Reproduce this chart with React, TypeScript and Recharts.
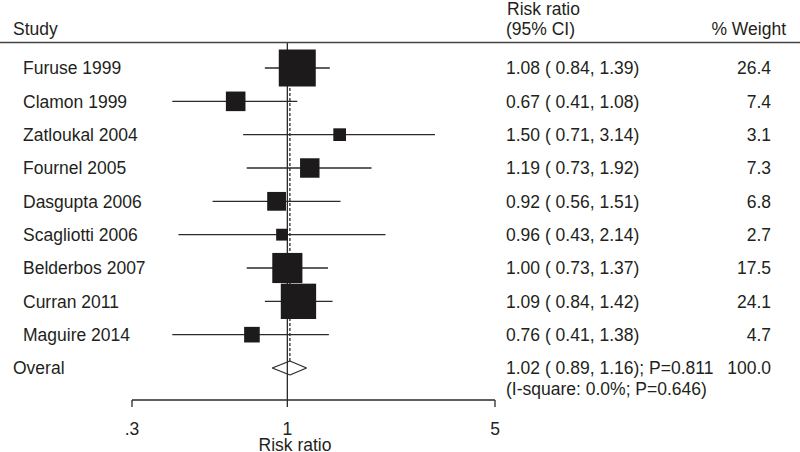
import { ComposedChart, XAxis, YAxis, Scatter, ReferenceLine } from 'recharts'

// Forest plot: risk ratios per study, log-scaled x axis

const FONT = '"Liberation Sans", Arial, Helvetica, sans-serif'
const INK = '#231f20'
const LINE = '#2a2a2a'
const FS = 17.5

const studies = [
	'Furuse 1999',
	'Clamon 1999',
	'Zatloukal 2004',
	'Fournel 2005',
	'Dasgupta 2006',
	'Scagliotti 2006',
	'Belderbos 2007',
	'Curran 2011',
	'Maguire 2014',
]
const estimates = [1.08, 0.67, 1.5, 1.19, 0.92, 0.96, 1.0, 1.09, 0.76]
const lower = [0.84, 0.41, 0.71, 0.73, 0.56, 0.43, 0.73, 0.84, 0.41]
const upper = [1.39, 1.08, 3.14, 1.92, 1.51, 2.14, 1.37, 1.42, 1.38]
const weights = [26.4, 7.4, 3.1, 7.3, 6.8, 2.7, 17.5, 24.1, 4.7]

const overallEst = 1.02
const overallLo = 0.89
const overallHi = 1.16
const overallP = '0.811'
const overallWeight = '100.0'
const iSquare = '0.0%'
const hetP = '0.646'

const xTicks = [0.3, 1, 5]

const OVERALL_ROW = studies.length
const rowTicks = [...studies.map((_, i) => i), OVERALL_ROW]

const rows = studies.map((name, i) => ({
	row: i,
	name,
	est: estimates[i],
	lo: lower[i],
	hi: upper[i],
	weight: weights[i],
}))

const fmtCI = (est: number, lo: number, hi: number) =>
	`${est.toFixed(2)} ( ${lo.toFixed(2)}, ${hi.toFixed(2)})`

// square side grows with sqrt(weight) so area tracks weight
const WeightSquare = (props: any) => {
	const { cx, cy, payload } = props
	const s = 7.2 * Math.sqrt(payload.weight)
	return <rect x={cx - s / 2} y={cy - s / 2} width={s} height={s} fill="#1c1a1b" />
}

const RowText = (props: any) => {
	const { y, payload } = props
	const i = payload.value
	if (i === OVERALL_ROW) {
		return (
			<g fontFamily={FONT} fontSize={FS} fill={INK}>
				<text x={13} y={y} dy="0.36em">Overal</text>
				<text x={506} y={y} dy="0.36em">
					{`${fmtCI(overallEst, overallLo, overallHi)}; P=${overallP}`}
				</text>
				<text x={771} y={y} dy="0.36em" textAnchor="end">{overallWeight}</text>
				<text x={506} y={y + 27}>{`(I-square: ${iSquare}; P=${hetP})`}</text>
			</g>
		)
	}
	const r = rows[i]
	return (
		<g fontFamily={FONT} fontSize={FS} fill={INK}>
			<text x={23} y={y} dy="0.36em">{r.name}</text>
			<text x={506} y={y} dy="0.36em">{fmtCI(r.est, r.lo, r.hi)}</text>
			<text x={771} y={y} dy="0.36em" textAnchor="end">{r.weight.toFixed(1)}</text>
		</g>
	)
}

const DIAMOND_H = 0.21

export default function App() {
	return (
		<div
			style={{
				position: 'absolute',
				left: 0,
				top: 0,
				width: 800,
				height: 452,
				background: '#fff',
				fontFamily: FONT,
			}}
		>
			<ComposedChart
				width={800}
				height={452}
				data={rows}
				margin={{ top: 42, right: 305, bottom: 0, left: 0 }}
			>
				<XAxis
					dataKey="est"
					type="number"
					scale="log"
					domain={[0.3, 5]}
					ticks={xTicks}
					allowDataOverflow
					height={52}
					tickSize={7}
					tickMargin={16}
					tickFormatter={(v: number) => (v < 1 ? String(v).replace(/^0/, '') : String(v))}
					tick={{ fill: INK, fontSize: FS, fontFamily: FONT }}
					axisLine={{ stroke: LINE, strokeWidth: 1.3 }}
					tickLine={{ stroke: LINE, strokeWidth: 1.3 }}
					label={() => (
						<text x={295} y={451} textAnchor="middle" fontFamily={FONT} fontSize={FS} fill={INK}>
							Risk ratio
						</text>
					)}
				/>
				<YAxis
					dataKey="row"
					type="number"
					domain={[-0.78, 9.96]}
					reversed
					ticks={rowTicks}
					width={132}
					axisLine={false}
					tickLine={false}
					tick={RowText}
					interval={0}
				/>

				<ReferenceLine x={1} stroke={LINE} strokeWidth={1.3} />
				<ReferenceLine
					segment={[
						{ x: overallEst, y: 0 },
						{ x: overallEst, y: OVERALL_ROW - DIAMOND_H },
					]}
					stroke={LINE}
					strokeWidth={1.3}
					strokeDasharray="3 2"
				/>

				{rows.map((r) => (
					<ReferenceLine
						key={r.name}
						segment={[
							{ x: r.lo, y: r.row },
							{ x: r.hi, y: r.row },
						]}
						stroke={LINE}
						strokeWidth={1.3}
						ifOverflow="visible"
					/>
				))}

				{/* pooled estimate diamond */}
				<ReferenceLine
					segment={[
						{ x: overallLo, y: OVERALL_ROW },
						{ x: overallEst, y: OVERALL_ROW - DIAMOND_H },
					]}
					stroke={LINE}
					strokeWidth={1.3}
				/>
				<ReferenceLine
					segment={[
						{ x: overallEst, y: OVERALL_ROW - DIAMOND_H },
						{ x: overallHi, y: OVERALL_ROW },
					]}
					stroke={LINE}
					strokeWidth={1.3}
				/>
				<ReferenceLine
					segment={[
						{ x: overallHi, y: OVERALL_ROW },
						{ x: overallEst, y: OVERALL_ROW + DIAMOND_H },
					]}
					stroke={LINE}
					strokeWidth={1.3}
				/>
				<ReferenceLine
					segment={[
						{ x: overallEst, y: OVERALL_ROW + DIAMOND_H },
						{ x: overallLo, y: OVERALL_ROW },
					]}
					stroke={LINE}
					strokeWidth={1.3}
				/>

				<Scatter dataKey="row" shape={WeightSquare} isAnimationActive={false} />
			</ComposedChart>

			{/* column headers */}
			<svg
				width={800}
				height={452}
				style={{ position: 'absolute', left: 0, top: 0, pointerEvents: 'none' }}
			>
				<g fontFamily={FONT} fontSize={FS} fill={INK}>
					<text x={13} y={35}>Study</text>
					<text x={507} y={15}>Risk ratio</text>
					<text x={506} y={35}>(95% CI)</text>
					<text x={786} y={35} textAnchor="end">% Weight</text>
				</g>
				<line x1={0} x2={800} y1={42.5} y2={42.5} stroke="#444" strokeWidth={1.5} />
			</svg>
		</div>
	)
}
